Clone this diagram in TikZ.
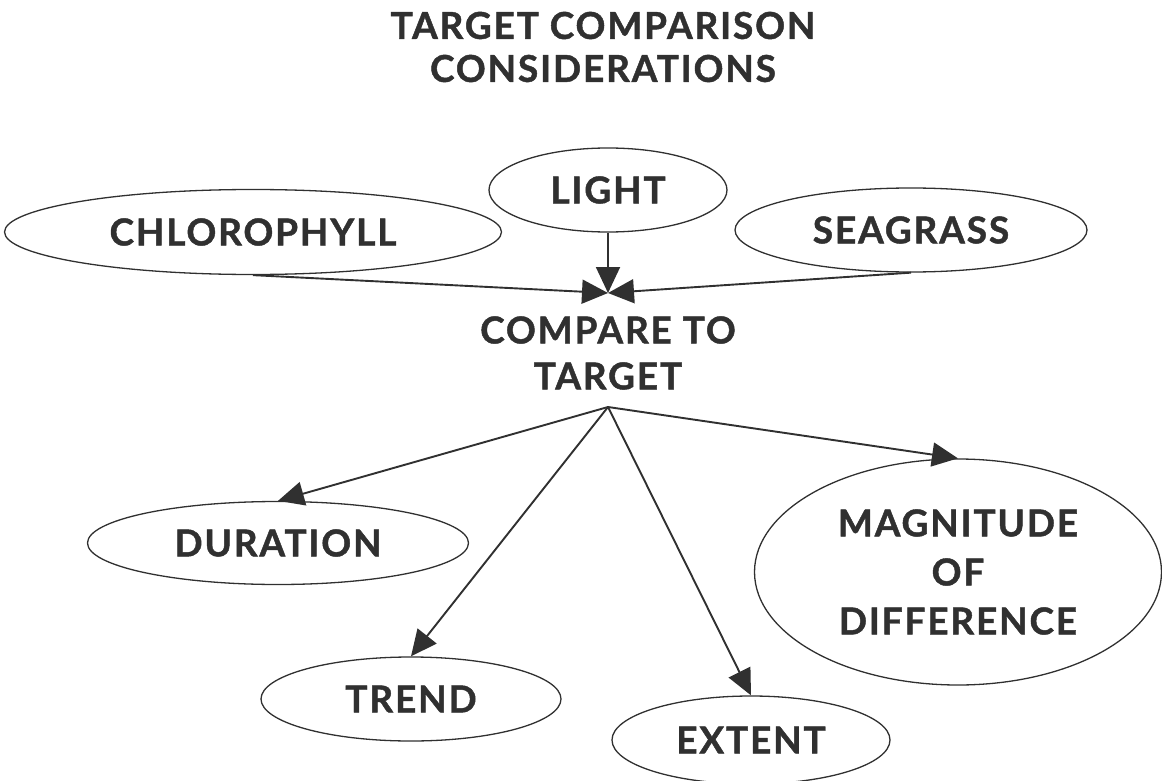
\documentclass[tikz,border=0pt]{standalone}
\usepackage{fontspec}
\setmainfont{Lato}[LetterSpace=5, BoldFeatures={FakeBold=1.2}]
\usetikzlibrary{arrows.meta,positioning,shapes.geometric}
\definecolor{InkGray}{RGB}{48,48,48}

\begin{document}
\begin{tikzpicture}[x=1pt,y=-1pt,
    label/.style={font=\fontsize{37}{46}\selectfont\bfseries, text=InkGray, align=center, inner sep=0pt},
    topic/.style={label, draw=InkGray, line width=1.3pt, ellipse},
    link/.style={draw=InkGray, line width=1.9pt, -{Triangle[length=26pt,width=24pt]}}]
  \useasboundingbox (0,0) rectangle (1162,781);
  \node[label, font=\fontsize{37}{43}\selectfont\bfseries] (title) at (603,47) {TARGET COMPARISON\\CONSIDERATIONS};
  % inputs
  \node[topic, minimum width=497, minimum height=85] (chl) at (253,232) {CHLOROPHYLL};
  \node[topic, minimum width=238, minimum height=84] (light) at (608,190) {LIGHT};
  \node[topic, minimum width=352, minimum height=84] (sea) at (911,230) {SEAGRASS};
  \node[label] (cmp) at (608,353) {COMPARE TO\\TARGET};
  \coordinate (hubin) at (608,293);
  \coordinate (hubout) at (608,407);
  % outcomes
  \node[topic, minimum width=381, minimum height=83] (dur) at (278,543) {DURATION};
  \node[topic, minimum width=300, minimum height=84] (trend) at (411,699) {TREND};
  \node[topic, minimum width=278, minimum height=88] (extent) at (751,740) {EXTENT};
  \node[topic, minimum width=407, minimum height=226, font=\fontsize{37}{49}\selectfont\bfseries] (mag) at (958,572) {MAGNITUDE\\OF\\DIFFERENCE};
  \foreach \src in {chl,light,sea} {
    \draw[link] (\src.south) -- (hubin);
  }
  \foreach \dst in {dur,trend,extent,mag} {
    \draw[link] (hubout) -- (\dst.north);
  }
\end{tikzpicture}
\end{document}
